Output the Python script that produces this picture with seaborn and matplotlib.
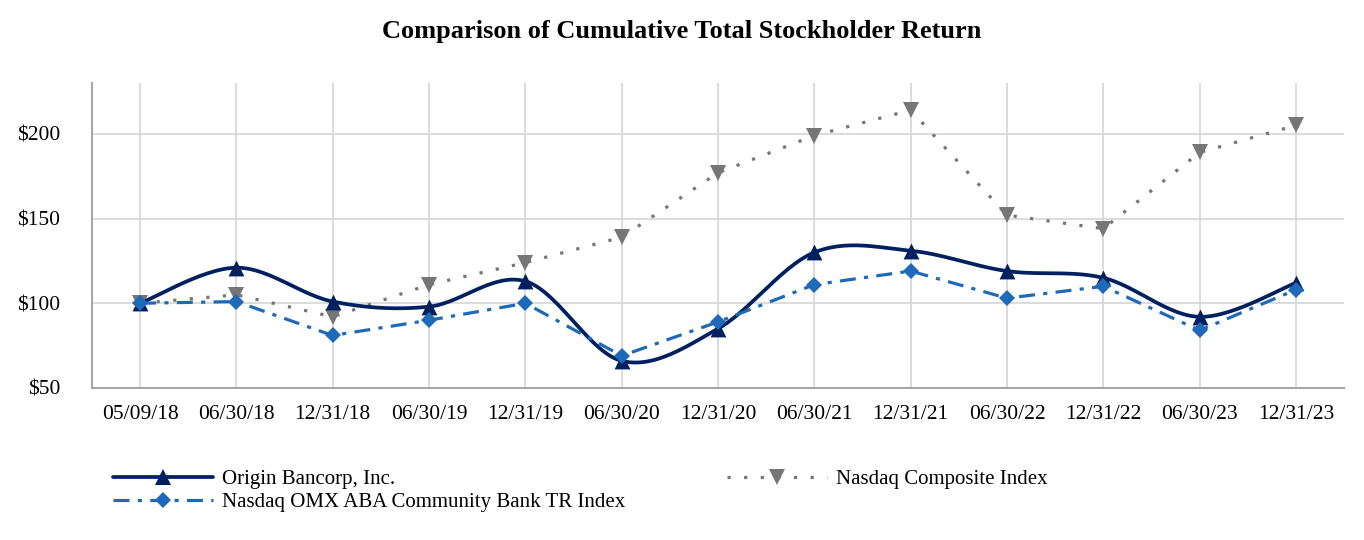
import numpy as np
import pandas as pd
import matplotlib
matplotlib.use("Agg")
import matplotlib.pyplot as plt
from matplotlib.lines import Line2D
import seaborn as sns

# Data
dates = ["05/09/18", "06/30/18", "12/31/18", "06/30/19", "12/31/19", "06/30/20", "12/31/20",
         "06/30/21", "12/31/21", "06/30/22", "12/31/22", "06/30/23", "12/31/23"]
origin = [100, 121, 101, 98, 113, 66, 85, 130, 131, 119, 115, 92, 112]
omx_aba = [100, 101, 81, 90, 100, 69, 89, 111, 119, 103, 110, 84, 108]
nasdaq = [100, 105, 92, 111, 124, 139, 177, 199, 214, 152, 144, 189, 205]
y_ticks = [50, 100, 150, 200]

NAVY = "#002060"
BLUE = "#1F6AB8"
GRAY = "#767676"


def smooth(x, y, steps=30):
    # Catmull-Rom style Bezier, like the "smoothed line" option in spreadsheets
    x = np.asarray(x, float)
    y = np.asarray(y, float)
    px = np.concatenate([[x[0]], x, [x[-1]]])
    py = np.concatenate([[y[0]], y, [y[-1]]])
    xs, ys = [], []
    t = np.linspace(0, 1, steps)
    for i in range(1, len(px) - 2):
        c1x = px[i] + (px[i + 1] - px[i - 1]) / 6
        c1y = py[i] + (py[i + 1] - py[i - 1]) / 6
        c2x = px[i + 1] - (px[i + 2] - px[i]) / 6
        c2y = py[i + 1] - (py[i + 2] - py[i]) / 6
        b0, b1, b2, b3 = (1 - t) ** 3, 3 * t * (1 - t) ** 2, 3 * t ** 2 * (1 - t), t ** 3
        xs.append(b0 * px[i] + b1 * c1x + b2 * c2x + b3 * px[i + 1])
        ys.append(b0 * py[i] + b1 * c1y + b2 * c2y + b3 * py[i + 1])
    return np.concatenate(xs), np.concatenate(ys)


sns.set_style("whitegrid", {"grid.color": "#D9D9D9", "axes.edgecolor": "#A6A6A6",
                            "text.color": "black"})
plt.rcParams["font.family"] = ["Liberation Serif", "DejaVu Serif"]

df = pd.DataFrame({"pos": np.arange(len(dates)), "date": dates,
                   "origin": origin, "omx": omx_aba, "nasdaq": nasdaq})

DOT = (0, (1, 4.2))
DASHDOT = (0, (5, 2.6, 1.3, 2.6))

fig = plt.figure(figsize=(13.64, 5.4), dpi=100)
ax = fig.add_axes([0.0674, 0.2815, 0.918, 0.5648])

# Nasdaq Composite (dotted, straight segments)
sns.lineplot(data=df, x="pos", y="nasdaq", ax=ax, color=GRAY, lw=2.3,
             linestyle=DOT, marker="v", markersize=11,
             markeredgewidth=0, zorder=3)
# Origin Bancorp (smoothed solid line)
sx, sy = smooth(df["pos"], df["origin"])
ax.plot(sx, sy, color=NAVY, lw=2.7, zorder=4, solid_capstyle="round")
sns.scatterplot(data=df, x="pos", y="origin", ax=ax, color=NAVY, marker="^",
                s=130, linewidth=0, zorder=5)
# Nasdaq OMX ABA (dash-dot)
sns.lineplot(data=df, x="pos", y="omx", ax=ax, color=BLUE, lw=2.3,
             linestyle=DASHDOT, marker="D", markersize=8.5,
             markeredgewidth=0, zorder=6)

ax.set_xlim(-0.5, len(dates) - 0.5)
ax.set_ylim(50, 230)
ax.set_xticks(df["pos"])
ax.set_xticklabels(dates)
ax.set_yticks(y_ticks)
ax.set_yticklabels([f"${v}" for v in y_ticks])
ax.tick_params(axis="both", labelsize=15.5, length=0, colors="black")
ax.tick_params(axis="x", pad=12)
ax.tick_params(axis="y", pad=23)
ax.set_xlabel("")
ax.set_ylabel("")
ax.grid(True, lw=1.3)
for side in ["top", "right"]:
    ax.spines[side].set_visible(False)
for side in ["left", "bottom"]:
    ax.spines[side].set_linewidth(1.5)

fig.suptitle("Comparison of Cumulative Total Stockholder Return", y=0.963,
             fontsize=19, fontweight="bold", color="black")

handles = [
    Line2D([], [], color=NAVY, lw=2.7, marker="^", markersize=11, markeredgewidth=0),
    Line2D([], [], color=BLUE, lw=2.3, linestyle=DASHDOT,
           marker="D", markersize=8.5, markeredgewidth=0),
    Line2D([], [], color=GRAY, lw=2.3, linestyle=DOT, marker="v",
           markersize=11, markeredgewidth=0),
]
labels = ["Origin Bancorp, Inc.", "Nasdaq OMX ABA Community Bank TR Index",
          "Nasdaq Composite Index"]
fig.legend(handles, labels, loc="upper left", bbox_to_anchor=(0.0828, 0.131),
           ncol=2, frameon=False, fontsize=15, handlelength=4.8,
           handletextpad=0.43, labelspacing=0.18, columnspacing=4.88,
           borderaxespad=0, borderpad=0, labelcolor="black")

fig.savefig("out.png", dpi=100)
